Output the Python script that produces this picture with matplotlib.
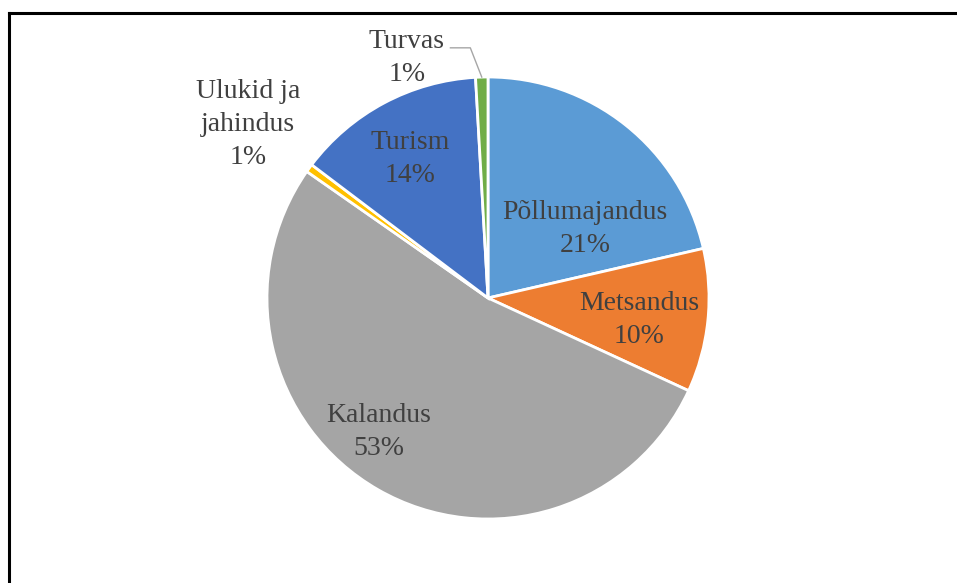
import numpy as np
import matplotlib
matplotlib.use("Agg")
from matplotlib import pyplot as plt

# data (share of each sector, %)
labels = ["Põllumajandus", "Metsandus", "Kalandus", "Ulukid ja\njahindus", "Turism", "Turvas"]
values = [21.4, 10.49, 52.81, 0.6, 13.8, 0.9]
colors = ["#5B9BD5", "#ED7D31", "#A5A5A5", "#FFC000", "#4472C4", "#70AD47"]

# label placement in pie units (radius = 1)
label_pos = [(0.439, 0.312), (0.684, -0.100), (-0.493, -0.605),
             (-1.086, 0.786), (-0.353, 0.628), (-0.367, 1.088)]

W, H = 957, 583
cx, cy, R = 488, 285, 221

fig = plt.figure(figsize=(W / 100, H / 100), dpi=100)
plt.rcParams['font.family'] = ['Liberation Serif', 'DejaVu Serif']

# frame (only top and left edges are visible in the source)
fig.add_artist(plt.Line2D([8.5 / W, 8.5 / W], [0, 1 - 12.5 / H], color="black", lw=2.2))
fig.add_artist(plt.Line2D([8.5 / W, 1], [1 - 12.5 / H, 1 - 12.5 / H], color="black", lw=2.2))

ax = fig.add_axes([(cx - R) / W, (cy - R) / H, 2 * R / W, 2 * R / H])
wedges, _ = ax.pie(values, colors=colors, startangle=90, counterclock=False, radius=1,
                   wedgeprops=dict(edgecolor="white", linewidth=2.0))
ax.set_xlim(-1, 1)
ax.set_ylim(-1, 1)
ax.set_aspect("equal")
ax.axis("off")

total = sum(values)
for lab, v, (x, y) in zip(labels, values, label_pos):
    pct = f"{round(v / total * 100):.0f}%"
    ax.text(x, y, f"{lab}\n{pct}", ha="center", va="center", fontsize=20,
            color="#404040", linespacing=1.42, clip_on=False)

# leader line for Turvas
w = wedges[5]
mid = np.deg2rad((w.theta1 + w.theta2) / 2)
ax.plot([-0.17, -0.08, np.cos(mid) * 1.0], [1.132, 1.132, np.sin(mid) * 1.0],
        color="#A6A6A6", lw=1.0, clip_on=False)

plt.savefig("out.png", dpi=100)
plt.close(fig)
